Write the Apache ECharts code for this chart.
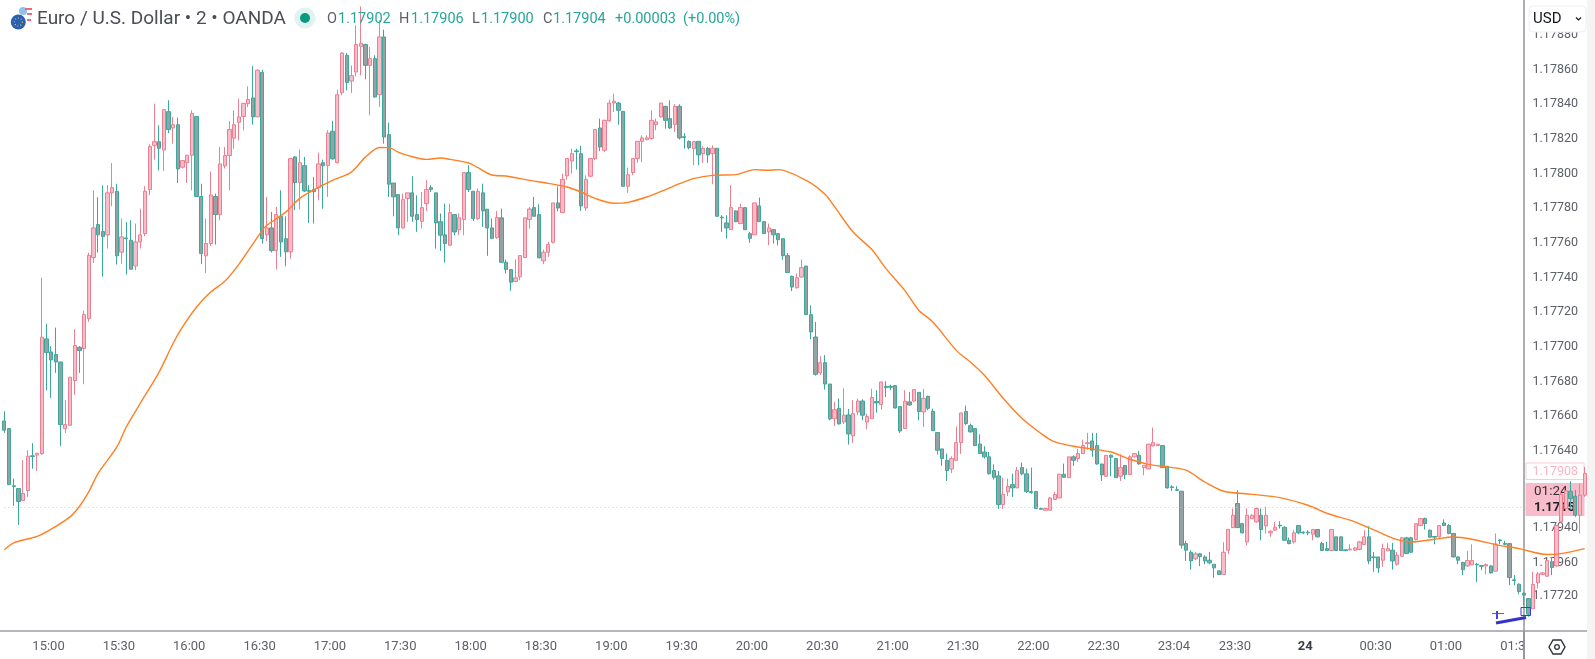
<!DOCTYPE html>
<html><head><meta charset="utf-8"><style>html,body{margin:0;padding:0;background:#fff;overflow:hidden}#c{width:1595px;height:659px;filter:blur(0.35px)}</style>
<script src="https://cdn.jsdelivr.net/npm/echarts@6/dist/echarts.min.js"></script></head><body><div id="c"></div>
<script>
// Prices are stored as points (0.00001) above this base.
const basePrice = 1.17;
const opens = [657.3,652.9,619.9,618.3,611.4,617.2,637.2,637.6,638.5,704.6,
697.1,695.6,691.3,652.9,654.8,680.6,699.8,699,716.3,751.5,
770.5,766.5,764.6,788.8,789.7,754.6,762.8,761.5,746.7,760.5,
765.3,790.7,816.2,818.3,813.5,835.6,826.2,828.1,803.6,806.2,
810.5,832.8,786.7,752.5,759.6,786.7,776.3,804.3,810.3,820.3,
829.5,832.8,840.2,843.5,832.6,858.3,764.6,768.6,755.5,775.3,
762.4,754.8,809.5,794.7,804.5,790.1,790.7,791.8,806.2,804.5,
824.3,806.2,846.6,868.1,853.3,858.5,873.3,874.3,862.3,866.2,
845.4,878.7,822.4,794.5,787.8,768.6,785.5,788.8,776.3,772.4,
782.6,791.8,788.8,772.2,764.6,758.6,776.3,767.6,773.4,800.5,
789.7,774,788.8,779.4,768.6,763,774.4,748.8,744.6,737.7,
740.4,751.5,773.4,780.3,776.3,749.6,754.6,760.3,783,777.4,
798.6,807.2,813,811.4,780.1,798.4,808.6,826.2,813.4,830.3,
840.6,840.6,835.8,792.6,800.5,808.6,818.5,819.5,820.1,828.1,
832.6,838.7,831.6,828.3,838.7,821.2,818.4,814.3,818.5,811.4,
814.5,811.4,814.5,774.8,771.5,767.6,778.4,771.1,780.3,765.3,
764.6,781.3,772.2,766.3,767.6,765.3,762.4,752.6,740.7,734.1,
740.3,746.6,718.6,705.7,685,690.9,678.6,658.6,664.6,656.7,
660.8,648.7,662.5,668.8,656.7,658.6,668.6,666.7,677.3,677.3,
677.7,665.6,652.9,668.3,668.8,673.8,662.5,671.5,662.9,650.6,
641.2,634.6,629.6,634.6,644.8,662.7,654.6,652.9,644,639.4,
636.6,628.7,625.6,609.1,616.4,620.6,618.7,630.4,626.8,616.6,
616.6,606.8,605.8,605.8,612,612.9,626.6,624.6,636.6,635.6,
638.5,644.2,645.8,643.1,632.5,625.4,637.5,635.6,625.4,631.6,
626.4,636.6,637.5,630.4,629.6,642.9,643.1,643.1,631.2,619.3,
617.7,616.8,586.6,581.6,577.8,580.7,578.9,577,574.7,570.9,
568.8,582.8,595.8,609.7,598.1,587.6,601,599.1,602.9,596.8,
592.8,594.3,597.2,596,588.5,587.6,597,593.2,593.2,592,
594.7,586.6,583.7,582.6,590.5,590.5,583,583,582.8,583.2,
586,590.5,578.9,578.9,577,582.4,582.8,574.7,579.3,589.9,
589.9,588.9,597,601,594.3,590.7,590.5,598.5,597,592.4,
578.9,575.7,573.7,574.3,574.7,573.9,573.7,573.7,570.7,588.7,
586.6,586.6,565.7,563.2,558,554.9,549,564,568.9,567.8,
576.1,573.7,599.1,606.8,616.8,613.9,603,614.5];
const closes = [652,620.6,619.5,610.9,615.5,637,636.8,638.7,705.6,696.7,
692.5,691.3,655.2,655.2,682.5,700.8,697.9,718.6,752.8,768.6,
764.6,763.6,788.8,791.8,752.5,763.4,762.4,744.8,760.5,764.6,
789.7,815.5,818.3,814.5,836.8,825.3,828.1,802.6,807.4,810.5,
834.5,786.7,753.8,759.6,787.6,776.3,805.5,810.3,825.3,828.1,
832.6,840.4,842.6,832.6,859.5,762.4,768.6,755.5,776.3,760.5,
754.8,808.6,794.7,806.2,789.9,789.7,789.5,805.5,804.5,823.3,
808.4,845.4,869.4,852.4,856.4,874.3,875,862.3,866.2,844.1,
878.7,821,793.8,786.5,768.6,784.9,788.8,775.3,773.4,780.3,
790.7,790.7,771.5,764.4,759.6,777.4,766.3,774.4,800.5,790.7,
774,789.7,778.4,768.6,762.6,774.6,748.8,744.6,737.3,739.8,
752.7,774.4,779.5,775.3,751.3,754.6,759,783,780.1,796.6,
808.6,811.4,812.6,781.3,796.6,808.6,825.3,815.3,830.6,840.6,
841.6,836.4,792.6,799.3,808.6,818.5,820.5,820.5,830.6,829.7,
840.6,830.6,826.2,838.7,820.5,820.8,814.9,818.4,810.7,814.5,
810.7,814.5,775.3,774.4,768.6,780.3,772.2,780.3,767.6,762.6,
783,772.2,765.3,768.6,764.6,761.8,752.6,742.8,734.5,739.9,
745.7,718.6,708.6,684.2,690.9,678.6,658.5,663.8,655.6,660.6,
649.8,661.5,668.8,660.6,659.8,670.8,667.7,679.8,676.5,676.7,
664.8,651.5,668.6,666.5,675.4,662.7,670.4,664.6,651.7,640.4,
635.6,628.7,635.6,644.8,661.9,655.8,651,643.1,638.5,636.6,
626.9,624.8,609.1,614.9,619.6,618.7,628.7,626.8,616.6,616,
606.8,606.4,606.8,612.9,614.9,626.6,624.8,636.6,634.6,638.5,
643.1,644.8,640.4,632.5,626.2,637.5,636.4,624.6,630.4,626.4,
636.6,638.5,632.5,631.8,643.9,644.8,643.9,630.4,618.7,618.9,
617.3,585.7,582.8,576.6,580.7,579.1,576.6,575.5,572.6,568.8,
581.6,594.7,602.9,595.8,592.8,602.9,602.9,606.8,594.7,602.9,
593.7,596,596.8,588.5,586.6,592.8,592.8,592.8,592.8,594.7,
590.5,582.6,582.6,594.7,582.6,582.6,582.6,583.4,584.1,587.6,
590.5,576.6,578.5,572.6,583.7,583.7,576.6,579.9,589.9,580.9,
581.6,598.1,601,598.1,590.3,590.3,597,597,592.4,578.9,
577,571.6,576.8,576.8,574.3,573.5,574.5,569.7,586.4,588.3,
586.2,567,565.3,559,556.9,545.9,563,569.1,569.7,576.8,
572.8,597,615,617,612.6,603,614.5,627];
const highs = [662.9,653.3,624.1,618.3,634.7,640.4,644.5,638.7,739.8,713.4,
700.4,711.1,691.3,669.3,682.5,710.2,700.4,720.9,754.2,790.3,
786.3,793.2,793.2,806,794.1,774,772,773,771.1,779.7,
792.6,816.8,840.2,827.8,836.8,842.2,832.6,832.2,807.4,810.5,
836.4,832.8,794.1,774,801.1,788.4,815.3,815.3,830.3,836.4,
843.1,840.4,850.2,861.8,860,859.8,786.5,777.8,780.7,790.3,
775.3,808.6,810.1,813.9,809.5,793.2,798,812,808,824.9,
830.3,848.3,870,869.4,862.3,885.4,896.3,874.8,872.9,868.1,
888.3,882.9,829.3,794.5,787.8,788.4,788.8,798.4,787.4,789.3,
796.1,793.2,788.8,776.9,782.6,782.6,776.3,776.9,800.5,804.7,
789.7,791.3,794.1,779.4,774,778.4,779.7,750.4,744.6,750.4,
752.7,774.4,780.7,786.5,782.2,756.1,760.5,783,792.6,799.9,
808.6,814.3,814.3,815.9,798.9,808.6,825.3,831.6,831,842.6,
846,841.2,835.8,803.4,808.6,818.5,822,822,836.4,831.6,
840.6,838.7,842.2,839.9,839.9,823.3,819.1,818.4,818.5,815.7,
815.3,816.2,814.5,775.9,775.9,793.4,778.8,782.6,780.3,766.3,
783,786.1,772.2,771.1,767.6,765.6,762.4,754.1,741.1,742.2,
750.3,746.6,724,714.4,694.6,695.3,678.6,668.3,670.2,676.1,
664.2,669.2,670.2,669.8,661.5,675.9,675,679.8,680.2,678.2,
677.7,665.6,675,674,675.4,673.8,675.9,671.9,664.4,650.6,
641.2,638.5,636.9,654.2,661.9,666.1,655.8,652.9,649.6,642.7,
639.4,632.3,628.5,624.5,624.1,626.9,630.8,633.3,629.8,630.4,
616.6,606.8,606.8,613.5,616.4,626.6,632.7,636.6,637.5,641.2,
646.5,650.4,650.4,650.4,632.5,637.5,638.1,635.6,638.1,631.6,
637.5,638.9,640,631.8,644.2,653.5,643.9,643.1,631.2,620.2,
619.7,616.8,588.2,582.8,581.8,581.2,579.9,581.8,574.7,570.9,
587.4,594.7,606.8,617.4,598.5,606.8,603.5,607.4,606.8,607.8,
594.3,599.1,599.5,596.6,590.1,594.3,597,593.7,594.3,595.1,
594.7,587.6,587.6,594.7,590.5,590.5,583,586.2,584.7,588.2,
594.3,596.6,581.8,578.9,586.6,587,587,581.8,590.5,590.5,
590.5,598.1,601.4,601.6,594.7,590.9,597,600.6,597.8,592.4,
579.3,576.1,582.4,586.2,575.5,574.1,575.1,574.1,592.4,589.3,
588.2,586.6,568.4,563.6,558.6,554.9,570.3,570.3,570.3,577,
578.9,597,616.4,617.4,622.5,617.4,621.2,630.8];
const lows = [650.4,620.3,608.4,597.4,611.4,613.4,629.7,628.5,637.6,675,
670.6,685,642.9,650.4,654.8,672.3,685,678.5,714.4,748.4,
754.4,740.5,756.7,781.1,747.5,748,741.7,744.8,744.2,756.7,
763.8,787.4,808,801.8,801.4,823.3,817.2,794.5,802.8,794.5,
790.3,786.7,747.7,742.7,758.2,759,773,802.8,790.3,814.3,
819.1,824.9,838.3,828.1,832.6,759.6,761.1,754.4,744.6,751.9,
746.5,750.9,778.8,779.2,789.3,771.5,771.1,784.5,779.7,786.5,
808,805.7,845,847.9,846.4,856,856.6,854.3,833.5,843.7,
838.3,817.2,786.5,775.3,764.4,768.2,772.1,772.1,766.3,768.2,
778.4,789.3,756.7,755.3,748.6,758.6,764.4,764.4,764.4,789.3,
772.6,773,769.2,752.5,762.3,762.3,748.8,742.3,732.3,737.3,
738.4,751.3,768.2,775.3,751.3,747.7,751.9,759.6,778.2,777.4,
796.4,799.9,802.2,778.4,778.4,798,807.6,812.8,812.4,829.7,
835.4,828.1,792.6,788.8,799,806.1,806.6,819.1,819.5,824.9,
832.2,825.8,825.8,823.9,819.5,814.3,813.9,804.7,804.7,806.1,
806.1,793.8,775.3,766.3,762.5,767.6,771.9,771.1,767.3,760,
764.6,772.2,765.3,758.6,759.6,758.5,750.3,742.8,732.2,733.6,
739.9,718.6,704.4,683.4,683.8,675.4,657.7,654.4,655.2,655.6,
643.7,644.6,660.6,657.7,652.5,658.6,662.1,663.8,671.1,675,
664.4,650.4,652.7,666.1,668.4,657.7,653.7,663.5,651.5,637.9,
631.4,622.7,627.3,634.6,638.3,654.8,650.6,642.9,638.5,635.6,
626.4,623.5,606.6,606.6,613.9,613.5,618.7,626,615.8,615.4,
606.6,606.4,605.8,605.8,611.6,612.9,624.6,624.6,631.4,633.7,
638.5,640.8,636.6,632.1,622.7,625,625.4,624.5,622.7,623.7,
626,636.2,632.1,626,629.6,642.7,643.1,630.4,618.3,617,
617,583.7,576.6,571.6,577,573.6,574.7,574.7,566.8,568.6,
568.8,580.5,595.8,595.8,592.4,585.5,600.6,598.7,588.5,592.4,
590.5,593.9,595.3,588.5,586.2,586.6,592,592,591.4,588.5,
590.1,582.4,582.4,582.6,582.6,582.6,582.6,582.4,582.4,582.8,
585.7,574.7,570.3,569.7,573.2,582.4,571.6,573.9,578.9,580.5,
581.2,588.5,596.6,594.7,589.9,586.2,590.1,596.6,592,578.6,
574.7,568.4,573.2,574.3,564.5,571.3,568.8,569.3,570.7,586.2,
585.7,562.6,562.6,557.4,551.1,544.4,549,560.7,568.4,567.4,
568.4,573.2,598.7,606.8,606.8,602,592.4,613.5];
// Moving average readings: bar index and value.
const maBars = [0,2,7,10,14,16,18,20,24,26,29,33,36,38,41,44,47,50,55,56,60,63,67,70,74,77,80,82,84,86,90,93,95,99,101,104,107,112,116,120,123,126,130,133,137,141,144,147,151,156,160,163,165,171,175,177,181,185,188,192,195,198,203,206,209,213,217,221,224,229,236,240,244,248,252,256,260,266,272,278,282,288,293,297,300,305,309,313,318,323,329,332,337];
const maValues = [583,587,590.8,594.9,602,608,616.4,627.1,642.3,653.8,667.5,685.5,702.1,711.5,723,731.6,737.8,747.6,767.2,770.1,777.7,785.6,792,796,800.8,809.4,815,814.9,812.3,810.4,808.1,808.9,808.1,806,803.3,799.1,798.5,796,794.3,792.2,789.3,785.6,782.8,783.3,786.4,790.7,794.1,797,798.9,799.3,802.2,801.8,802.2,796,788,781,766.2,756.1,745.1,732.6,721.1,714.3,698,691.3,683.6,670.4,658.8,650.2,645.2,642.3,639.4,635.2,632.3,630.8,628.9,622.1,616.8,615,613.1,608.7,604.1,599.1,593.3,588.9,587.5,589.1,590.4,589.1,586,583.7,580.3,580.8,583.7];
const lastPriceLine = 607.7;
const xTickBars = [9,24,39,54,69,84,99,114,129,144,159,174,189,204,219,234,249,262,277,292,307,322];
const xTickLabels = ['15:00','15:30','16:00','16:30','17:00','17:30','18:00','18:30','19:00','19:30','20:00','20:30','21:00','21:30','22:00','22:30','23:04','23:30','24','00:30','01:00','01:30'];
const yTickValues = [880,860,840,820,800,780,760,740,720,700,680,660,640,595.6,575.4,556.4];
const yTickLabels = ['1.17880','1.17860','1.17840','1.17820','1.17800','1.17780','1.17760','1.17740','1.17720','1.17700','1.17680','1.17660','1.17640','1.17940','1.17960','1.17720'];

const price = p => +(basePrice + p / 1e5).toFixed(6);
const categories = [];
(function () {
  for (let i = 0; i < opens.length; i++) {
    let m = 14 * 60 + 42 + i * 2 + (i >= 249 ? 4 : 0);
    categories.push(String(Math.floor(m / 60) % 24).padStart(2, '0') + ':' + String(m % 60).padStart(2, '0'));
  }
})();
const candleData = opens.map((o, i) => [price(o), price(closes[i]), price(lows[i]), price(highs[i])]);
const maData = maBars.map((b, i) => [b, price(maValues[i])]);
const yVals = yTickValues.map(price);

const FONT = 'Roboto, "Noto Sans", sans-serif';
const teal = '#26a69a';
const headerParts = [
 ['O', '#5d606b', 327],['1.17902', teal, 338],['H', '#5d606b', 399],['1.17906', teal, 411],['L', '#5d606b', 472],['1.17900', teal, 481],
 ['C', '#5d606b', 543],['1.17904', teal, 553],['+0.00003', teal, 615],['(+0.00%)', teal, 683]
];
const graphicEls = [
  // title
  {type:'text', z:20, style:{x:37,y:19,text:'Euro / U.S. Dollar \u2022 2 \u2022 OANDA',font:'19px '+FONT,fill:'#4a4d57',textVerticalAlign:'middle'}},
  // flags
  {type:'circle', z:20, shape:{cx:23,cy:11,r:4}, style:{fill:'#8fc1ea'}},
  {type:'rect', z:20, shape:{x:25,y:8,width:7,height:2}, style:{fill:'#f0697a'}},
  {type:'rect', z:20, shape:{x:27,y:13,width:5,height:2}, style:{fill:'#f0697a'}},
  {type:'rect', z:20, shape:{x:27,y:19,width:4,height:2}, style:{fill:'#f0697a'}},
  {type:'circle', z:21, shape:{cx:18.3,cy:22,r:7.5}, style:{fill:'#2a5fb0'}},
  {type:'circle', z:22, shape:{cx:18.3,cy:22,r:4}, style:{fill:'none',stroke:'#d6c35a',lineWidth:1.2,lineDash:[1,2]}},
  // status
  {type:'circle', z:20, shape:{cx:305,cy:18,r:10.5}, style:{fill:'#e0f3ef'}},
  {type:'circle', z:21, shape:{cx:305,cy:18,r:5}, style:{fill:'#089981'}},
  // price scale line
  {type:'line', z:1, shape:{x1:1524,y1:0,x2:1524,y2:659}, style:{stroke:'#8b8f96',lineWidth:1.4}},
  // last price tags (under the candles)
  {type:'rect', z:1, shape:{x:1526,y:463,width:58,height:16.5}, style:{fill:'#fff',stroke:'#f9cdd8',lineWidth:1}},
  {type:'text', z:1, style:{x:1578,y:471.5,text:'1.17908',font:'12.5px '+FONT,fill:'#f6b5c5',textAlign:'right',textVerticalAlign:'middle'}},
  {type:'rect', z:1, shape:{x:1525.5,y:483,width:59,height:33}, style:{fill:'#f9bccb'}},
  {type:'text', z:1, style:{x:1534,y:491.5,text:'01:24',font:'13.5px '+FONT,fill:'#333',textVerticalAlign:'middle'}},
  {type:'text', z:1, style:{x:1534,y:508,text:'1.1715',font:'bold 13px '+FONT,fill:'#222',textVerticalAlign:'middle'}},
  // time-scale cover and axis line
  {type:'rect', z:30, shape:{x:1525,y:632,width:70,height:27}, style:{fill:'#fff'}},
  {type:'line', z:31, shape:{x1:0,y1:631,x2:1590,y2:631}, style:{stroke:'#9a9da3',lineWidth:1.6}},
  {type:'line', z:31, shape:{x1:1524,y1:631,x2:1524,y2:659}, style:{stroke:'#8b8f96',lineWidth:1.4}},
  // settings hexagon
  {type:'polygon', z:32, shape:{points:[[1549,647],[1553,640],[1561,640],[1565,647],[1561,654],[1553,654]]}, style:{fill:'none',stroke:'#30333c',lineWidth:1.4}},
  {type:'circle', z:32, shape:{cx:1557,cy:647,r:2.3}, style:{fill:'none',stroke:'#30333c',lineWidth:1.3}},
  // currency button
  {type:'rect', z:40, shape:{x:1529,y:6,width:57,height:26,r:4}, style:{fill:'#fff',stroke:'#eeeeee',lineWidth:1}},
  {type:'text', z:41, style:{x:1533,y:19,text:'USD',font:'15px "Liberation Sans Narrow", Roboto, sans-serif',fill:'#131722',textVerticalAlign:'middle'}},
  {type:'polyline', z:41, shape:{points:[[1576,17.5],[1578.5,20],[1581,17.5]]}, style:{fill:'none',stroke:'#131722',lineWidth:1.2}},
  // right strip
  {type:'rect', z:39, shape:{x:1587,y:0,width:8,height:659}, style:{fill:'#f4f4f4'}},
  // blue annotation
  {type:'rect', z:25, shape:{x:1521,y:607.5,width:9.5,height:8}, style:{fill:'none',stroke:'#3a3ad8',lineWidth:1}},
  {type:'line', z:25, shape:{x1:1496,y1:623,x2:1526,y2:617.5}, style:{stroke:'#3333cc',lineWidth:3}},
  {type:'line', z:25, shape:{x1:1492,y1:613.5,x2:1504,y2:613.5}, style:{stroke:'#5a5ae0',lineWidth:1}},
  {type:'line', z:25, shape:{x1:1497,y1:611,x2:1497,y2:619}, style:{stroke:'#4444dd',lineWidth:2}},
];
headerParts.forEach(p => graphicEls.push({type:'text', z:20, style:{x:p[2],y:19,text:p[0],font:'14.5px '+FONT,fill:p[1],textVerticalAlign:'middle'}}));

const chart = echarts.init(document.getElementById('c'), null, {renderer:'canvas'});
chart.setOption({
  animation:false, backgroundColor:'#fff',
  grid:{left:2,top:0,width:1585,height:631,containLabel:false},
  xAxis:{type:'category',data:categories,boundaryGap:true,
    axisLine:{show:false},axisTick:{show:false},splitLine:{show:false},
    axisLabel:{margin:9,padding:[0,0,0,4],fontFamily:'Roboto',fontSize:13,color:'#5d6068',hideOverlap:false,
      interval:(i)=>xTickBars.indexOf(i)>=0,
      formatter:(v,i)=>{const k=xTickBars.indexOf(i);if(k<0)return '';const t=xTickLabels[k];return t==='24'?'{b|24}':t;},
      rich:{b:{fontFamily:'Roboto',fontSize:13,fontWeight:'bold',color:'#3a3d45'}}}},
  yAxis:{type:'value',position:'right',min:price(536.2),max:price(900),scale:true,
    axisLine:{show:false},axisTick:{show:false},splitLine:{show:false},
    axisLabel:{inside:true,margin:9,fontFamily:'Roboto',fontSize:12.5,color:'#5d6068',
      customValues:yVals,
      formatter:(v)=>{let b=0;yVals.forEach((y,i)=>{if(Math.abs(y-v)<Math.abs(yVals[b]-v))b=i;});return yTickLabels[b];}}},
  graphic:{elements:graphicEls},
  series:[
   {type:'candlestick',data:candleData,barWidth:3.8,z:2,
    itemStyle:{color:'#f9bccb',color0:'#93a2a2',borderColor:'#ec7f90',borderColor0:'#3aa99b',borderWidth:1},
    markLine:{silent:true,symbol:'none',label:{show:false},animation:false,
      lineStyle:{color:'#f6b8c8',type:[1,3],width:1},
      data:[[{coord:[0,price(lastPriceLine)]},{coord:[324,price(lastPriceLine)]}]]}},
   {type:'line',data:maData,symbol:'none',smooth:0.3,z:3,lineStyle:{color:'#ff7f22',width:1.4},silent:true}
  ]
});
</script></body></html>
